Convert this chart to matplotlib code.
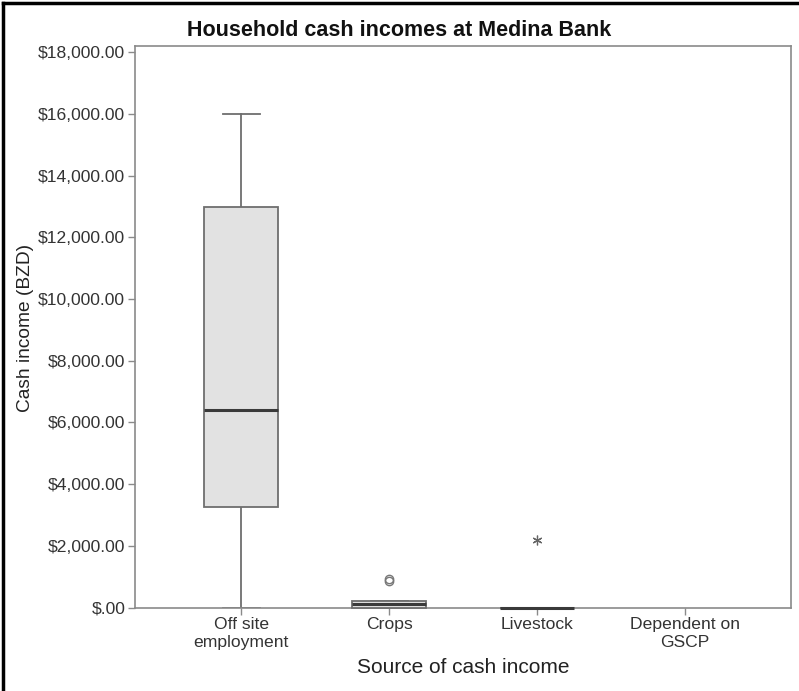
import matplotlib
matplotlib.use("Agg")
import matplotlib.pyplot as plt
from matplotlib.lines import Line2D
from matplotlib.ticker import FuncFormatter

plt.rcParams['font.family'] = ['Liberation Sans', 'DejaVu Sans']

categories = ["Off site\nemployment", "Crops", "Livestock", "Dependent on\nGSCP"]
whisker_low = [0, 0, 0, None]
q1 = [3250, 0, 0, None]
median = [6400, 100, 0, None]
q3 = [13000, 220, 0, None]
whisker_high = [16000, 220, 0, None]
outliers_circle = [[], [850, 940], [], []]
outliers_extreme = [[], [], [2200], []]

fig = plt.figure(figsize=(7.99, 6.91), dpi=100)
ax = fig.add_axes([135 / 799, 1 - 607.5 / 691, (791 - 135) / 799, (607.5 - 45.7) / 691])

stats = []
positions = []
for i in range(len(categories)):
    if median[i] is None:
        continue
    stats.append(dict(whislo=whisker_low[i], q1=q1[i], med=median[i], q3=q3[i],
                      whishi=whisker_high[i], fliers=[]))
    positions.append(i + 1)

edge = "#6e6e6e"
parts = ax.bxp(stats, positions=positions, widths=0.5, patch_artist=True, showfliers=False,
               boxprops=dict(facecolor="#e2e2e2", edgecolor=edge, linewidth=1.3),
               medianprops=dict(color="#3a3a3a", linewidth=2.2),
               whiskerprops=dict(color=edge, linewidth=1.3),
               capprops=dict(color=edge, linewidth=1.3), capwidths=0.25)
for key in ("boxes", "medians"):
    for art in parts[key]:
        art.set_zorder(3)
        art.set_clip_on(False)

for i, vals in enumerate(outliers_circle):
    for v in vals:
        ax.plot(i + 1, v, marker="o", markersize=6, markerfacecolor="none",
                markeredgecolor="#777777", markeredgewidth=1.0, linestyle="none")
for i, vals in enumerate(outliers_extreme):
    for v in vals:
        ax.plot(i + 1, v, marker=(6, 2, 0), markersize=7,
                markeredgecolor="#666666", markeredgewidth=0.9, linestyle="none")

ax.set_xlim(0.28, 4.72)
ax.set_ylim(0, 18214)
ax.set_yticks(range(0, 18001, 2000))
ax.yaxis.set_major_formatter(FuncFormatter(
    lambda v, p: "$.00" if v == 0 else "${:,.2f}".format(v)))
ax.set_xticks(range(1, len(categories) + 1))
ax.set_xticklabels(categories)

for s in ax.spines.values():
    s.set_color("#8a8a8a")
    s.set_linewidth(1.2)
ax.tick_params(axis="both", colors="#8a8a8a", labelcolor="#333333",
               labelsize=12.6, length=5, width=1.0, pad=2)

fig.text(26 / 799, 1 - 328 / 691, "Cash income (BZD)", rotation=90,
         ha="center", va="center", fontsize=13.8, color="#222222")
ax.set_xlabel("Source of cash income", fontsize=15, color="#222222", labelpad=6)
fig.text(0.5, 1 - 30 / 691, "Household cash incomes at Medina Bank",
         ha="center", va="center", fontsize=15.5, fontweight="bold", color="#111111")

# outer frame (left and top edges)
fig.add_artist(Line2D([3 / 799, 3 / 799], [0, 1 - 3 / 691], transform=fig.transFigure,
                      color="black", linewidth=2.5))
fig.add_artist(Line2D([3 / 799, 1], [1 - 3 / 691, 1 - 3 / 691], transform=fig.transFigure,
                      color="black", linewidth=2.5))

fig.savefig("out.png", dpi=100)
